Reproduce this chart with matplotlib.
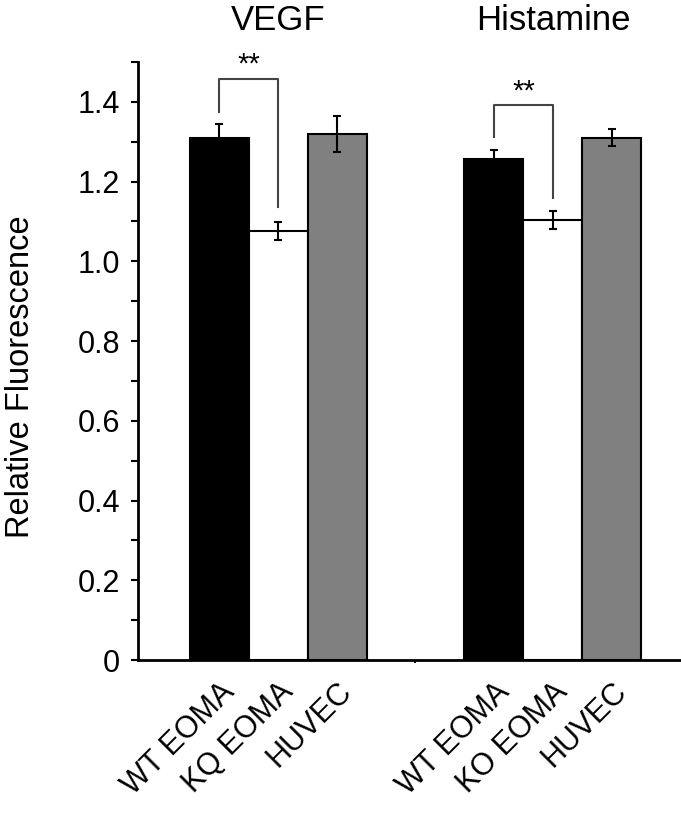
import matplotlib.pyplot as plt
from matplotlib.ticker import MultipleLocator

plt.rcParams['font.family'] = ['Liberation Sans', 'DejaVu Sans']

groups = ["VEGF", "Histamine"]
cells = [["WT EOMA", "KQ EOMA", "HUVEC"], ["WT EOMA", "KO EOMA", "HUVEC"]]
values = [[1.31, 1.076, 1.32], [1.257, 1.104, 1.31]]
errors = [[0.035, 0.023, 0.045], [0.023, 0.023, 0.021]]
colors = ["black", "white", "#808080"]
sig_labels = ["**", "**"]
y_ticks = [0, 0.2, 0.4, 0.6, 0.8, 1.0, 1.2, 1.4]
y_tick_labels = ["0", "0.2", "0.4", "0.6", "0.8", "1.0", "1.2", "1.4"]


def main():
    fig = plt.figure(figsize=(6.81, 8.14), dpi=100)
    ax = fig.add_axes([138 / 681, 1 - 660 / 814, 1 - 138 / 681, 598 / 814])

    group_start = [0, 4.66]
    xs_all = []
    labels_all = []
    for g in range(len(groups)):
        xs = [group_start[g] + i for i in range(3)]
        ax.bar(xs, values[g], width=1.0, color=colors, edgecolor="black", linewidth=1.5, zorder=2)
        ax.errorbar(xs, values[g], yerr=errors[g], fmt="none", ecolor="black",
                    elinewidth=1.5, capsize=3, capthick=1.5, zorder=3)
        xs_all += xs
        labels_all += cells[g]
        # group title above the plot
        ax.text(xs[1], 1.0686, groups[g], ha="center", va="center", fontsize=25,
                transform=ax.get_xaxis_transform(), clip_on=False)

    # significance brackets: x1, x2, left end, right end, top
    brackets = [
        (0, 1, 1.375, 1.136, 1.458),
        (4.66, 5.66, 1.312, 1.159, 1.392),
    ]
    for (x1, x2, y1, y2, top), lab in zip(brackets, sig_labels):
        ax.plot([x1, x1, x2, x2], [y1, top, top, y2], color="#444444", lw=1.5,
                clip_on=False, zorder=4)
        ax.text((x1 + x2) / 2, top + 0.035, lab, ha="center", va="center",
                fontsize=21, clip_on=False)

    ax.set_xlim(-1.373, 7.83)
    ax.set_ylim(0, 1.5)
    ax.set_yticks(y_ticks)
    ax.set_yticklabels(y_tick_labels, fontsize=22)
    ax.yaxis.set_minor_locator(MultipleLocator(0.1))
    ax.set_xticks(xs_all)
    ax.set_xticklabels(labels_all, rotation=45, ha="right", rotation_mode="anchor",
                       fontsize=22)
    ax.set_xticks([3.33], minor=True)
    ax.tick_params(axis="x", which="major", length=0, pad=12)
    ax.tick_params(axis="x", which="minor", direction="out", length=2, width=1.5)
    ax.tick_params(axis="y", which="both", direction="out", length=5, width=1.5, pad=8)

    fig.text(21 / 681, 1 - 377 / 814, "Relative Fluorescence", rotation=90,
             ha="center", va="center", fontsize=23.5)

    for s in ["top", "right"]:
        ax.spines[s].set_visible(False)
    for s in ["left", "bottom"]:
        ax.spines[s].set_linewidth(2)

    fig.savefig("out.png", dpi=100)


if __name__ == "__main__":
    main()
